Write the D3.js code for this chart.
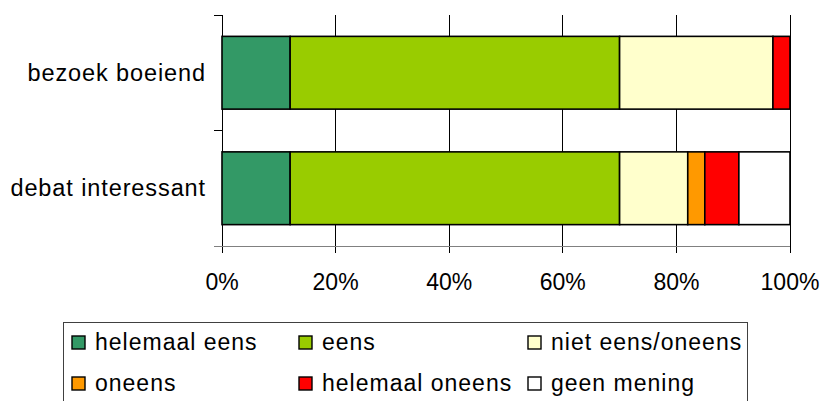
<!DOCTYPE html>
<html>
<head>
<meta charset="utf-8">
<script src="https://cdn.jsdelivr.net/npm/d3@7"></script>
<style>
  body { margin: 0; background: #fff; }
  text { font-family: Arial, "Liberation Sans", sans-serif; fill: #000; }
</style>
</head>
<body>
<script>
var categories = ["bezoek boeiend", "debat interessant"];
var seriesNames = ["helemaal eens", "eens", "niet eens/oneens", "oneens", "helemaal oneens", "geen mening"];
var seriesColors = ["#339966", "#99cc00", "#ffffcc", "#ff9900", "#ff0000", "#ffffff"];
// percentages per series, in category order
var helemaalEens = [12, 12];
var eens = [58, 58];
var nietEensOneens = [27, 12];
var oneens = [0, 3];
var helemaalOneens = [3, 6];
var geenMening = [0, 9];
var tickValues = [0, 20, 40, 60, 80, 100];

var seriesValues = [helemaalEens, eens, nietEensOneens, oneens, helemaalOneens, geenMening];

var width = 823, height = 401;
var svg = d3.select("body").append("svg")
  .attr("width", width)
  .attr("height", height);

var plotTop = 15, plotBottom = 246;
var x = d3.scaleLinear().domain([0, 100]).range([222, 790]);
var y = d3.scaleBand().domain(categories).range([plotTop, plotBottom])
  .paddingInner(0.37).paddingOuter(0.185);

// vertical grid lines (extend below axis as tick marks)
svg.append("g")
  .selectAll("line")
  .data(tickValues)
  .enter().append("line")
    .attr("x1", function(d) { return x(d); })
    .attr("x2", function(d) { return x(d); })
    .attr("y1", plotTop)
    .attr("y2", plotBottom + 7)
    .attr("stroke", "#000")
    .attr("stroke-width", 1)
    .attr("shape-rendering", "crispEdges");

// left axis line + category separators
var sepY = [plotTop, plotTop + (plotBottom - plotTop) / 2, plotBottom];
svg.append("g")
  .selectAll("line")
  .data(sepY)
  .enter().append("line")
    .attr("x1", x(0) - 8)
    .attr("x2", function(d, i) { return i == 2 ? x(100) : x(0); })
    .attr("y1", function(d) { return d; })
    .attr("y2", function(d) { return d; })
    .attr("stroke", function(d, i) { return i == 2 ? "#808080" : "#000"; })
    .attr("stroke-width", 1)
    .attr("shape-rendering", "crispEdges");

// stacked bars
var stacked = [];
categories.forEach(function(c, ci) {
  var acc = 0;
  seriesValues.forEach(function(vals, si) {
    var v = vals[ci];
    if (v > 0) {
      stacked.push({cat: c, series: si, x0: acc, x1: acc + v});
    }
    acc += v;
  });
});

svg.append("g")
  .selectAll("rect")
  .data(stacked)
  .enter().append("rect")
    .attr("x", function(d) { return x(d.x0); })
    .attr("width", function(d) { return x(d.x1) - x(d.x0); })
    .attr("y", function(d) { return y(d.cat); })
    .attr("height", y.bandwidth())
    .attr("fill", function(d) { return seriesColors[d.series]; })
    .attr("stroke", "#000")
    .attr("stroke-width", 1.6);

// category labels
svg.append("g")
  .selectAll("text")
  .data(categories)
  .enter().append("text")
    .attr("x", 206)
    .attr("y", function(d) { return y(d) + y.bandwidth() / 2 + 8; })
    .attr("text-anchor", "end")
    .style("font-size", "23.5px")
    .style("letter-spacing", "0.9px")
    .text(function(d) { return d; });

// x tick labels
svg.append("g")
  .selectAll("text")
  .data(tickValues)
  .enter().append("text")
    .attr("x", function(d) { return x(d); })
    .attr("y", 290)
    .attr("text-anchor", "middle")
    .style("font-size", "23px")
    .text(function(d) { return d + "%"; });

// legend
var legend = svg.append("g");
legend.append("rect")
  .attr("x", 63.5)
  .attr("y", 322.5)
  .attr("width", 684)
  .attr("height", 100)
  .attr("fill", "none")
  .attr("stroke", "#404040")
  .attr("stroke-width", 1);

var colX = [72, 299, 528];
var rowY = [336, 377];
var item = legend.selectAll(".item")
  .data(seriesNames)
  .enter().append("g")
    .attr("class", "item")
    .attr("transform", function(d, i) {
      return "translate(" + colX[i % 3] + "," + rowY[Math.floor(i / 3)] + ")";
    });
item.append("rect")
  .attr("width", 13)
  .attr("height", 13)
  .attr("fill", function(d, i) { return seriesColors[i]; })
  .attr("stroke", "#000")
  .attr("stroke-width", 1.4);
item.append("text")
  .attr("x", 23)
  .attr("y", 14)
  .style("font-size", "23px")
  .style("letter-spacing", "1px")
  .text(function(d) { return d; });
</script>
</body>
</html>
